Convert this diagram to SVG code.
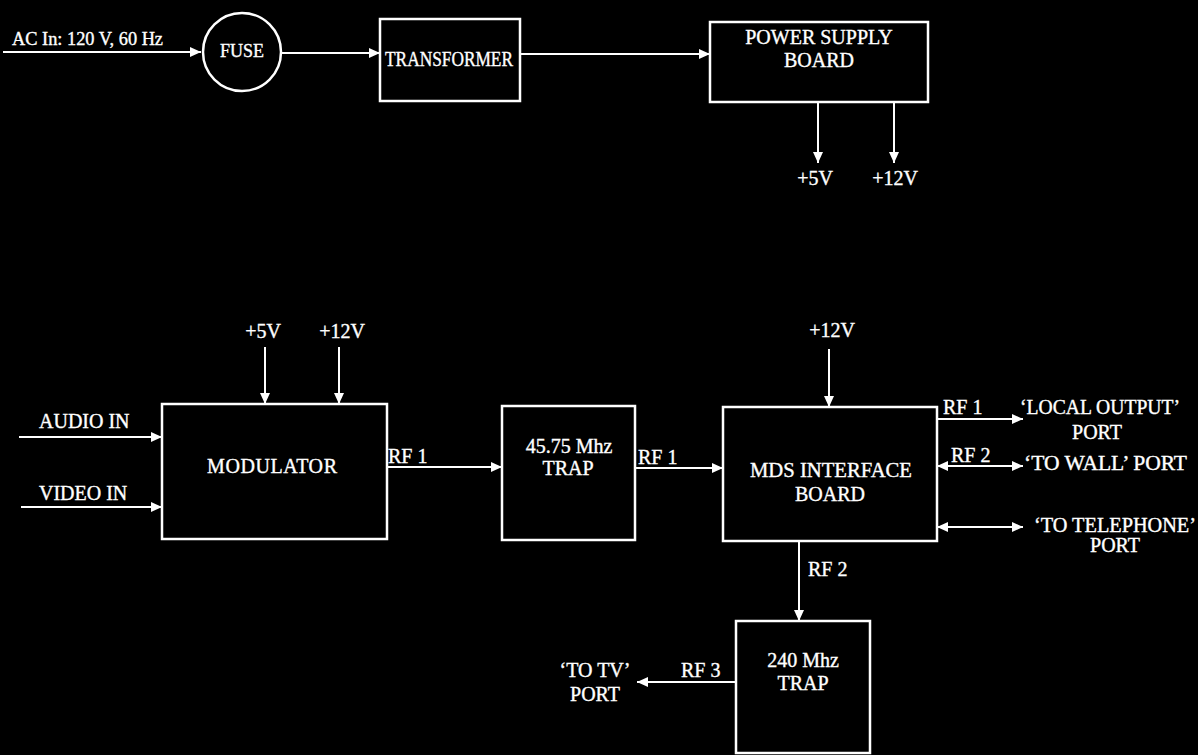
<svg xmlns="http://www.w3.org/2000/svg" width="1198" height="755" viewBox="0 0 1198 755">
<style>
.bg{fill:#000}
.box{fill:none;stroke:#fff;stroke-width:2.5}
.ln{fill:none;stroke:#fff;stroke-width:2}
text{font-family:"Liberation Serif","Times New Roman",serif;font-size:20px;fill:#fff;stroke:#fff;stroke-width:0.35}
.m{text-anchor:middle}
.s{font-size:18px}
</style>
<defs>
<marker id="ah" markerUnits="userSpaceOnUse" markerWidth="12" markerHeight="10" refX="11" refY="5" orient="auto-start-reverse">
<path d="M0,0 L11,5 L0,10 Z" fill="#fff"/>
</marker>
</defs>
<rect class="bg" x="0" y="0" width="1198" height="755"/>

<g id="connectors">
<line class="ln" x1="3" y1="52" x2="201" y2="52" marker-end="url(#ah)"/>
<line class="ln" x1="282" y1="53" x2="380" y2="53" marker-end="url(#ah)"/>
<line class="ln" x1="520" y1="54" x2="710" y2="54" marker-end="url(#ah)"/>
<line class="ln" x1="818" y1="102" x2="818" y2="163" marker-end="url(#ah)"/>
<line class="ln" x1="894" y1="102" x2="894" y2="163" marker-end="url(#ah)"/>
<line class="ln" x1="265" y1="347" x2="265" y2="404" marker-end="url(#ah)"/>
<line class="ln" x1="339" y1="347" x2="339" y2="404" marker-end="url(#ah)"/>
<line class="ln" x1="19" y1="437" x2="162" y2="437" marker-end="url(#ah)"/>
<line class="ln" x1="21" y1="507" x2="162" y2="507" marker-end="url(#ah)"/>
<line class="ln" x1="387" y1="467" x2="502" y2="467" marker-end="url(#ah)"/>
<line class="ln" x1="635" y1="468" x2="723" y2="468" marker-end="url(#ah)"/>
<line class="ln" x1="829" y1="349" x2="829" y2="407" marker-end="url(#ah)"/>
<line class="ln" x1="937" y1="419" x2="1023" y2="419" marker-end="url(#ah)"/>
<line class="ln" x1="937" y1="466" x2="1023" y2="466" marker-start="url(#ah)" marker-end="url(#ah)"/>
<line class="ln" x1="937" y1="527" x2="1023" y2="527" marker-start="url(#ah)" marker-end="url(#ah)"/>
<line class="ln" x1="799" y1="541" x2="799" y2="621" marker-end="url(#ah)"/>
<line class="ln" x1="736" y1="682" x2="637" y2="682" marker-end="url(#ah)"/>
<text class="s" x="12" y="45" textLength="151" lengthAdjust="spacingAndGlyphs">AC In: 120 V, 60 Hz</text>
<text class="m" x="815" y="185">+5V</text>
<text class="m" x="895" y="185">+12V</text>
<text class="m" x="263" y="338">+5V</text>
<text class="m" x="342" y="338">+12V</text>
<text x="39" y="428">AUDIO IN</text>
<text x="39" y="500">VIDEO IN</text>
<text x="388" y="463">RF 1</text>
<text x="638" y="464">RF 1</text>
<text class="m" x="832" y="337">+12V</text>
<text x="943" y="414">RF 1</text>
<text x="951" y="462">RF 2</text>
<text x="808" y="576">RF 2</text>
<text x="681" y="677">RF 3</text>
</g>

<g id="fuse">
<circle class="box" cx="242" cy="52" r="39"/>
<text class="m s" x="242" y="57">FUSE</text>
</g>
<g id="transformer">
<rect class="box" x="380" y="19" width="140" height="82"/>
<text class="m" x="449" y="66" textLength="128" lengthAdjust="spacingAndGlyphs">TRANSFORMER</text>
</g>
<g id="power-supply">
<rect class="box" x="710" y="22" width="218" height="80"/>
<text class="m" x="819" y="44">POWER SUPPLY</text>
<text class="m" x="819" y="67">BOARD</text>
</g>
<g id="modulator">
<rect class="box" x="162" y="404" width="225" height="135"/>
<text class="m" x="272" y="473" textLength="130">MODULATOR</text>
</g>
<g id="trap-45">
<rect class="box" x="502" y="406" width="133" height="134"/>
<text class="m" x="569" y="453">45.75 Mhz</text>
<text class="m" x="568" y="475">TRAP</text>
</g>
<g id="mds">
<rect class="box" x="723" y="407" width="214" height="134"/>
<text class="m" x="831" y="477" textLength="162" lengthAdjust="spacingAndGlyphs">MDS INTERFACE</text>
<text class="m" x="830" y="501">BOARD</text>
</g>
<g id="trap-240">
<rect class="box" x="736" y="621" width="134" height="132"/>
<text class="m" x="803" y="667">240 Mhz</text>
<text class="m" x="803" y="690">TRAP</text>
</g>
<g id="local-output">
<text class="m" x="1100" y="414" textLength="160" lengthAdjust="spacingAndGlyphs">‘LOCAL OUTPUT’</text>
<text class="m" x="1097" y="439">PORT</text>
</g>
<g id="to-wall">
<text x="1024" y="470" textLength="163" lengthAdjust="spacingAndGlyphs">‘TO WALL’ PORT</text>
</g>
<g id="to-telephone">
<text class="m" x="1115" y="532" textLength="162" lengthAdjust="spacingAndGlyphs">‘TO TELEPHONE’</text>
<text class="m" x="1115" y="552">PORT</text>
</g>
<g id="to-tv">
<text class="m" x="595" y="677">‘TO TV’</text>
<text class="m" x="595" y="701">PORT</text>
</g>
</svg>
